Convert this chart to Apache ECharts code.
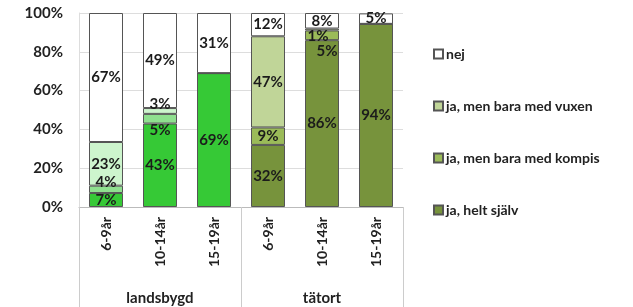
<!DOCTYPE html>
<html>
<head>
<meta charset="utf-8">
<script src="https://cdn.jsdelivr.net/npm/echarts@6/dist/echarts.min.js"></script>
<style>
  html, body { margin: 0; padding: 0; background: #fff; }
  #chart { width: 633px; height: 307px; }
</style>
</head>
<body>
<div id="chart"></div>
<script>
// kategorier
const ages = ['6-9år', '10-14år', '15-19år', '6-9år', '10-14år', '15-19år']
const groups = ['landsbygd', 'tätort']
const yTicks = [0, 20, 40, 60, 80, 100]

// andel (%) per svar
const heltSjalv = [7.2, 43, 69, 32, 86, 94.4]
const medKompis = [3.8, 5, 0, 9, 5, 0]
const medVuxen = [22.5, 3, 0, 47, 1, 0]
const nej = [66.5, 49, 31, 12, 8, 5.4]

const names = ['ja, helt själv', 'ja, men bara med kompis', 'ja, men bara med vuxen', 'nej']

// färger: landsbygd (ljusgrön) resp. tätort (oliv)
const landColors = ['#36c936', '#8fe08f', '#cdf5cd', '#ffffff']
const townColors = ['#77933c', '#9bbb59', '#c0d598', '#ffffff']

// etiketter som Excel knuffat lite
const nudge = {
  '1-0': [0, -7],
  '1-1': [0, 11],
  '2-1': [0, -7],
  '2-4': [-4, 7],
  '1-4': [5, 16]
}

const font = 'Lato, "Open Sans", sans-serif'

const makeSeries = (vals, s) => ({
  name: names[s],
  type: 'bar',
  stack: 'total',
  barWidth: 34,
  itemStyle: { color: townColors[s], borderColor: '#555', borderWidth: 1 },
  label: {
    show: true,
    position: 'inside',
    color: '#1b1b1b',
    fontFamily: font,
    fontWeight: 'bold',
    fontSize: 15,
    formatter: p => p.value > 0 ? Math.round(p.value) + '%' : ''
  },
  data: vals.map((v, i) => {
    const item = {
      value: v,
      itemStyle: { color: i < 3 ? landColors[s] : townColors[s] }
    }
    const off = nudge[s + '-' + i]
    if (off) item.label = { offset: off }
    return item
  })
})

const chart = echarts.init(document.getElementById('chart'))
chart.setOption({
  animation: false,
  grid: { left: 79, right: 230, top: 13, bottom: 100 },
  legend: {
    orient: 'vertical',
    left: 428,
    top: 42,
    itemGap: 38,
    itemWidth: 9,
    itemHeight: 9,
    icon: 'rect',
    data: [names[3], names[2], names[1], names[0]],
    textStyle: { fontFamily: font, fontWeight: 'bold', fontSize: 14, color: '#222', padding: [0, 0, 0, -2] }
  },
  xAxis: [
    {
      type: 'category',
      data: ages,
      axisLine: { lineStyle: { color: '#bbb' } },
      axisTick: { show: false },
      axisLabel: {
        rotate: 90,
        margin: 10,
        fontFamily: font,
        fontWeight: 'bold',
        fontSize: 14,
        color: '#222'
      }
    },
    {
      type: 'category',
      position: 'bottom',
      data: groups,
      axisLine: { show: false },
      axisTick: { show: true, length: 100, lineStyle: { color: '#ccc' } },
      axisLabel: {
        margin: 84,
        fontFamily: font,
        fontWeight: 'bold',
        fontSize: 15,
        color: '#222'
      }
    }
  ],
  yAxis: {
    type: 'value',
    min: yTicks[0],
    max: yTicks[yTicks.length - 1],
    interval: 20,
    axisLine: { show: true, lineStyle: { color: '#ddd' } },
    axisTick: { show: false },
    splitLine: { lineStyle: { color: '#ddd' } },
    axisLabel: {
      margin: 16,
      fontFamily: font,
      fontWeight: 'bold',
      fontSize: 15,
      color: '#222',
      formatter: v => v + '%'
    }
  },
  series: [
    makeSeries(heltSjalv, 0),
    makeSeries(medKompis, 1),
    makeSeries(medVuxen, 2),
    makeSeries(nej, 3)
  ]
})
</script>
</body>
</html>
